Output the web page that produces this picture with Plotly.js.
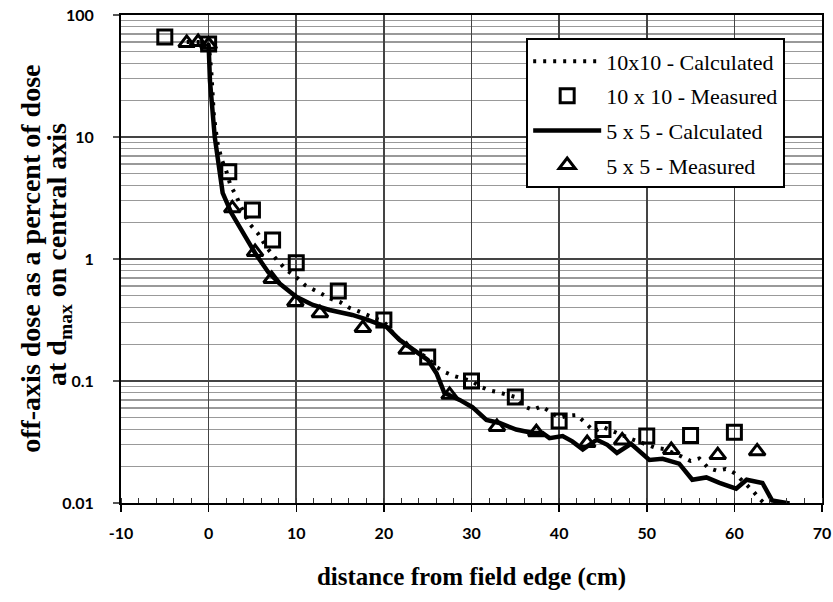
<!DOCTYPE html>
<html>
<head>
<meta charset="utf-8">
<script src="https://cdn.plot.ly/plotly-3.0.1.min.js"></script>
<style>html,body{margin:0;padding:0;background:#fff;}#chart{width:833px;height:602px;}</style>
</head>
<body>
<div id="chart"></div>
<script>
// 10x10 calculated (dotted line)
const calc10X = [-2.5, -1, 0, 0.3, 0.6, 1, 1.5, 2, 2.5, 3.1, 3.6, 4.6, 5.6, 6.6, 7.8, 8.9, 10, 11, 12, 13, 14, 15, 16, 17, 18, 19.2, 20, 21, 22, 23, 24, 25, 26, 27, 28, 29, 30, 31, 32, 33, 34, 35, 36, 37, 38, 39, 40, 41, 42, 43, 44, 45, 46, 47, 48, 49, 50, 51, 52, 53, 54, 55, 56, 57, 58, 59, 60, 61, 62, 63, 63.5];
const calc10Y = [60, 60, 57, 35, 15, 9, 6.5, 5.3, 4.0, 3.35, 2.77, 1.97, 1.63, 1.25, 0.98, 0.81, 0.71, 0.61, 0.56, 0.51, 0.47, 0.444, 0.40, 0.375, 0.35, 0.328, 0.305, 0.25, 0.21, 0.185, 0.17, 0.155, 0.13, 0.118, 0.11, 0.104, 0.1, 0.09, 0.084, 0.081, 0.078, 0.074, 0.062, 0.058, 0.062, 0.056, 0.05, 0.052, 0.0526, 0.0453, 0.0386, 0.042, 0.039, 0.036, 0.034, 0.032, 0.03, 0.0283, 0.0277, 0.026, 0.024, 0.0221, 0.0232, 0.0194, 0.0184, 0.019, 0.0176, 0.015, 0.0128, 0.0106, 0.0098];
// 10x10 measured (squares)
const meas10X = [-5, 0, 2.3, 5, 7.3, 10, 14.8, 20, 25, 30, 35, 40, 45, 50, 55, 60];
const meas10Y = [66, 57.8, 5.2, 2.52, 1.43, 0.93, 0.547, 0.316, 0.157, 0.1, 0.074, 0.047, 0.040, 0.0354, 0.0357, 0.038];
// 5x5 calculated (solid line)
const calc5X = [0, 0.15, 0.7, 1.3, 1.6, 2.6, 3.9, 5.3, 6.8, 8.1, 10, 11.9, 13.8, 16.4, 18, 19.5, 20.3, 21.8, 23.3, 25, 26, 26.9, 28.65, 30.1, 31.7, 33.2, 35.1, 37, 38.1, 38.9, 40.4, 41.5, 42.7, 44.3, 45.5, 46.6, 48.2, 49.3, 50.3, 51.8, 53.7, 55.2, 56.8, 58.3, 60.2, 61.4, 63.2, 64.3, 65.5, 66.3];
const calc5Y = [57, 29, 10, 4.4, 3.48, 2.38, 1.63, 1.12, 0.78, 0.63, 0.49, 0.42, 0.382, 0.348, 0.32, 0.29, 0.277, 0.217, 0.18, 0.149, 0.116, 0.08, 0.07, 0.061, 0.048, 0.0453, 0.040, 0.0375, 0.0375, 0.034, 0.0354, 0.032, 0.0275, 0.033, 0.03, 0.0257, 0.0305, 0.026, 0.0225, 0.023, 0.021, 0.0155, 0.0162, 0.0146, 0.0131, 0.0155, 0.0146, 0.0105, 0.0102, 0.0099];
// 5x5 measured (triangles)
const meas5X = [-2.5, -1.2, 0, 2.7, 5.3, 7.2, 9.9, 12.7, 17.6, 22.6, 27.5, 32.9, 37.4, 43.2, 47.2, 52.8, 58.1, 62.6];
const meas5Y = [59, 60, 57, 2.6, 1.14, 0.686, 0.444, 0.36, 0.272, 0.18, 0.077, 0.042, 0.038, 0.031, 0.0326, 0.0272, 0.0247, 0.0265];

const seriesNames = ['10x10 - Calculated', '10 x 10 - Measured', '5 x 5 - Calculated', '5 x 5 - Measured'];
const xTicks = [-10, 0, 10, 20, 30, 40, 50, 60, 70];
const yTickVals = [0.01, 0.1, 1, 10, 100];
const yTickText = ['0.01', '0.1', '1', '10', '100'];
const xTitle = 'distance from field edge (cm)';
const yTitleLines = ['off-axis dose as a percent of dose', 'at d<sub>max</sub> on central axis'];

const yMinor = [];
for (const d of [0.01, 0.1, 1, 10]) for (let k = 2; k <= 9; k++) yMinor.push(+(k * d).toPrecision(3));

const serif = 'Liberation Serif, Times New Roman, serif';
const sans = 'Lato, Open Sans, sans-serif';

const traces = [
  {x: calc10X, y: calc10Y, name: seriesNames[0], mode: 'lines', legendgroup: 'a',
   line: {color: '#000', width: 4, dash: '3px,7px'}},
  {x: meas10X, y: meas10Y, name: seriesNames[1], mode: 'markers', legendgroup: 'b',
   marker: {symbol: 'square-open', size: 14, color: '#000', line: {width: 3, color: '#000'}}},
  {x: calc5X, y: calc5Y, name: seriesNames[2], mode: 'lines', legendgroup: 'c',
   line: {color: '#000', width: 4.5}},
  {x: meas5X, y: meas5Y, name: seriesNames[3], mode: 'markers', legendgroup: 'd',
   marker: {symbol: 'triangle-up-open', size: 14, color: '#000', line: {width: 3, color: '#000'}}}
];

const layout = {
  width: 833, height: 602,
  margin: {l: 121, r: 11, t: 15, b: 99},
  paper_bgcolor: '#fff', plot_bgcolor: '#fff',
  showlegend: true,
  legend: {
    x: 0.578, y: 0.952, xanchor: 'left', yanchor: 'top',
    bgcolor: '#fff', bordercolor: '#000', borderwidth: 2,
    font: {family: serif, size: 22, color: '#000'},
    itemwidth: 68, traceorder: 'grouped', tracegroupgap: 3
  },
  xaxis: {
    range: [-10, 70], tickvals: xTicks, ticktext: xTicks.map(String),
    showgrid: true, gridcolor: '#444', gridwidth: 1.6,
    zeroline: false, showline: true, linecolor: '#000', linewidth: 2, mirror: true,
    ticks: 'outside', ticklen: 7, tickwidth: 1.5, tickcolor: '#000',
    minor: {dtick: 2, ticks: 'inside', ticklen: 5, tickwidth: 1, tickcolor: '#333', showgrid: false},
    ticklabelstandoff: 8,
    tickfont: {family: sans, size: 16, color: '#000', weight: 'bold'},
    title: {text: xTitle, standoff: 26,
      font: {family: serif, size: 25, color: '#000', weight: 'bold'}}
  },
  yaxis: {
    type: 'log', range: [-2, 2], tickvals: yTickVals, ticktext: yTickText,
    showgrid: true, gridcolor: '#444', gridwidth: 1.6,
    zeroline: false, showline: true, linecolor: '#000', linewidth: 2, mirror: true,
    ticks: 'outside', ticklen: 6, tickwidth: 1.5, tickcolor: '#555',
    minor: {tickvals: yMinor, showgrid: true, gridcolor: '#999', gridwidth: 1.3, ticks: ''},
    ticklabelstandoff: 16,
    tickfont: {family: sans, size: 16, color: '#000', weight: 'bold'}
  },
  annotations: [
    {text: yTitleLines[0], xref: 'paper', yref: 'paper', x: -0.13, y: 0.5,
     xanchor: 'center', yanchor: 'middle', textangle: -90, showarrow: false,
     font: {family: serif, size: 28, color: '#000', weight: 'bold'}},
    {text: yTitleLines[1], xref: 'paper', yref: 'paper', x: -0.09, y: 0.51,
     xanchor: 'center', yanchor: 'middle', textangle: -90, showarrow: false,
     font: {family: serif, size: 28, color: '#000', weight: 'bold'}}
  ]
};

Plotly.newPlot('chart', traces, layout, {displayModeBar: false, staticPlot: true});
</script>
</body>
</html>
